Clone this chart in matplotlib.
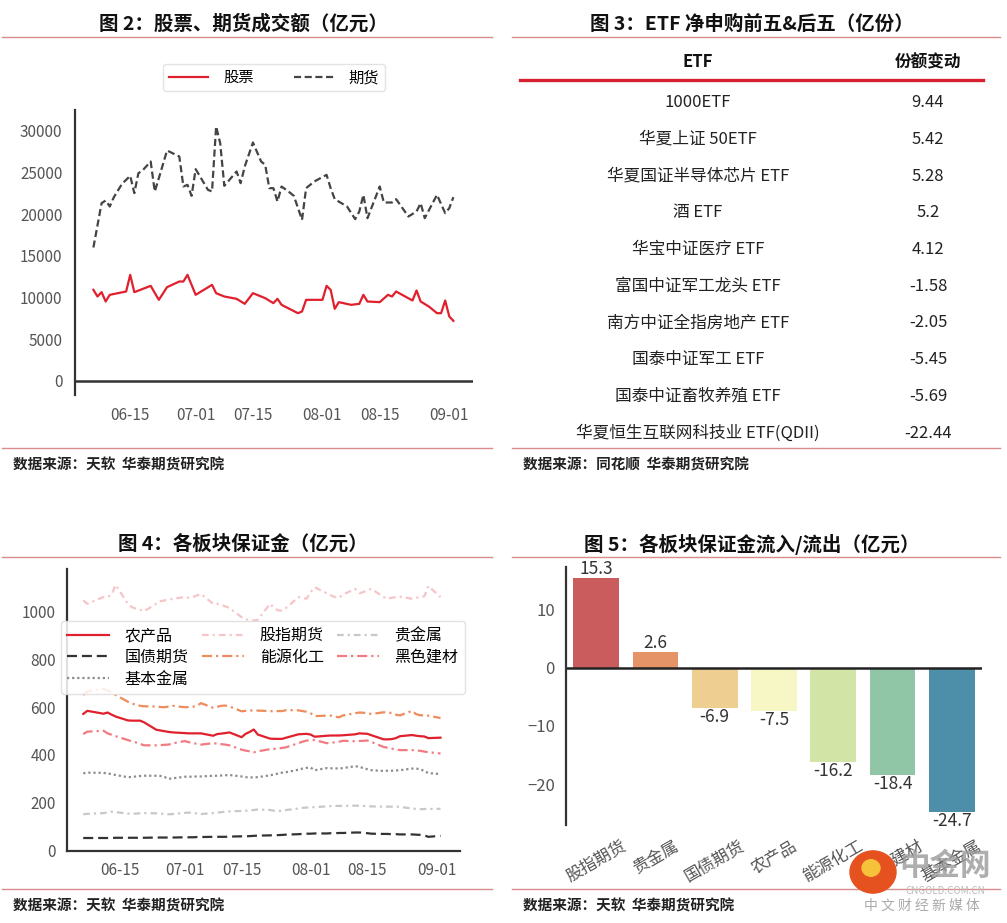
import pandas as pd
import matplotlib
matplotlib.use('Agg')
import matplotlib.pyplot as plt
import matplotlib.dates as mdates
from matplotlib.lines import Line2D
from matplotlib.patches import Circle
import seaborn as sns

plt.rcParams['font.family'] = ['Noto Sans CJK SC', 'DejaVu Sans']

W, H = 1007, 923


def fx(px):
    return px / W


def fy(py):
    return 1 - py / H


base = pd.Timestamp('2024-06-06')

# ---------------- 图2 股票、期货成交额 (days since 06-06) ----------------
stock_day = [0, 1, 2, 3, 4, 8, 9, 10, 14, 16, 18, 21, 22, 23, 25, 29, 30, 32, 35, 37, 39, 42, 44, 45, 46,
             50, 51, 52, 56, 57, 58, 59, 60, 63, 65, 66, 67, 70, 72, 73, 74, 78, 79, 80, 82, 84, 85, 86, 87, 88]
stock_amt = [10920, 10120, 10640, 9520, 10320, 10720, 12720, 10640, 11400, 9720, 11240, 11920, 11920, 12720,
             10320, 11520, 10520, 10120, 9840, 9240, 10520, 9920, 9320, 9840, 9120, 8120, 8320, 9720, 9720,
             11400, 10920, 8640, 9440, 9120, 9240, 10320, 9520, 9440, 10320, 10120, 10720, 9640, 10840, 9520,
             8920, 8120, 8120, 9640, 7720, 7200]
fut_day = [0, 2, 3, 4, 5, 7, 9, 10, 11, 12, 14, 15, 16, 18, 21, 22, 23, 24, 25, 28, 29, 30, 31, 32, 35, 36,
           37, 39, 41, 42, 43, 44, 45, 46, 48, 49, 51, 52, 54, 57, 58, 59, 62, 64, 65, 66, 67, 70, 71, 73, 74,
           77, 79, 80, 81, 84, 86, 87, 88]
fut_amt = [16000, 21320, 21640, 20920, 22040, 23640, 24600, 22520, 24920, 25240, 26320, 22720, 24320, 27640,
           26920, 23320, 23520, 22200, 25400, 22920, 22720, 30520, 28520, 23400, 25120, 23720, 25720, 28600,
           26320, 25920, 23120, 23120, 21520, 23320, 22600, 22200, 19320, 23120, 23920, 24720, 23120, 21800,
           20920, 19400, 20320, 22320, 19520, 23320, 21400, 21400, 21800, 19720, 20320, 21320, 19520, 22320,
           20120, 20720, 22040]

# ---------------- 图3 ETF 净申购 ----------------
etf_names = ['1000ETF', '华夏上证 50ETF', '华夏国证半导体芯片 ETF', '酒 ETF', '华宝中证医疗 ETF',
             '富国中证军工龙头 ETF', '南方中证全指房地产 ETF', '国泰中证军工 ETF', '国泰中证畜牧养殖 ETF',
             '华夏恒生互联网科技业 ETF(QDII)']
etf_change = [9.44, 5.42, 5.28, 5.2, 4.12, -1.58, -2.05, -5.45, -5.69, -22.44]

# ---------------- 图4 各板块保证金 (trading days since 06-06) ----------------
margin_day = [0, 1, 5, 6, 7, 8, 11, 12, 13, 14, 15, 18, 19, 20, 21, 22, 25, 26, 27, 28, 29, 32, 33, 34, 35, 36,
              39, 40, 41, 42, 43, 46, 47, 48, 49, 50, 53, 54, 55, 56, 57, 60, 61, 62, 63, 64, 67, 68, 69, 70, 71,
              74, 75, 76, 77, 78, 81, 82, 83, 84, 85, 88]
agri = [571, 584, 572, 577, 568, 560, 544, 543, 543, 543, 536, 505, 502, 499, 496, 494, 491, 490, 490, 490, 490,
        480, 487, 489, 491, 494, 474, 488, 496, 506, 485, 468, 467, 467, 467, 472, 486, 487, 488, 485, 476,
        480, 481, 481, 481, 482, 486, 490, 489, 488, 482, 465, 465, 466, 470, 478, 483, 480, 478, 477, 470, 472]
bond = [53, 53, 53, 53, 53, 54, 54, 54, 54, 54, 54, 55, 55, 55, 55, 55, 56, 56, 56, 57, 57, 58, 58, 58, 58, 59,
        60, 60, 61, 62, 63, 64, 65, 65, 66, 67, 69, 70, 71, 71, 72, 72, 73, 73, 74, 74, 76, 76, 75, 73, 71,
        70, 70, 69, 69, 68, 68, 67, 66, 64, 58, 62]
base_metal = [323, 326, 325, 322, 320, 316, 307, 308, 310, 312, 313, 313, 312, 308, 300, 302, 309, 309, 309, 310,
              310, 313, 313, 314, 315, 316, 310, 307, 306, 306, 307, 315, 318, 322, 326, 328, 338, 343, 346, 347,
              336, 345, 344, 344, 343, 345, 353, 350, 345, 340, 336, 333, 334, 334, 335, 336, 343, 343, 340, 333,
              324, 320]
index_fut = [1045, 1031, 1059, 1059, 1070, 1110, 1030, 1017, 1010, 1006, 1000, 1031, 1042, 1045, 1047, 1052,
             1059, 1056, 1059, 1066, 1072, 1031, 1031, 1027, 1020, 1014, 975, 968, 961, 961, 964, 1031, 1014,
             1003, 1003, 1014, 1059, 1056, 1052, 1080, 1100, 1075, 1066, 1059, 1056, 1070, 1093, 1075, 1080,
             1089, 1093, 1059, 1052, 1056, 1059, 1061, 1052, 1056, 1059, 1062, 1105, 1059]
energy = [650, 665, 675, 670, 660, 650, 622, 614, 610, 605, 603, 602, 600, 599, 602, 605, 599, 600, 601, 605,
          616, 597, 601, 605, 606, 603, 582, 584, 585, 586, 585, 583, 582, 583, 583, 587, 586, 583, 580, 574,
          562, 564, 564, 560, 557, 565, 574, 577, 576, 574, 571, 578, 577, 575, 568, 565, 584, 570, 566, 564,
          564, 554]
precious = [152, 154, 157, 160, 163, 161, 155, 154, 155, 156, 157, 156, 155, 153, 152, 153, 158, 159, 158, 155,
            153, 157, 159, 161, 163, 164, 166, 167, 168, 170, 172, 170, 167, 165, 167, 170, 176, 179, 180, 181,
            182, 185, 186, 187, 187, 187, 188, 188, 187, 186, 185, 184, 184, 184, 184, 183, 176, 174, 173, 174,
            174, 175]
ferrous = [487, 497, 501, 490, 484, 478, 462, 457, 452, 446, 440, 440, 441, 442, 443, 448, 458, 453, 450, 446,
           443, 449, 447, 445, 443, 440, 422, 418, 415, 411, 415, 424, 425, 427, 429, 432, 449, 455, 460, 461,
           462, 449, 450, 453, 455, 459, 457, 458, 459, 460, 454, 433, 430, 426, 423, 420, 420, 419, 417, 414,
           411, 406]

# ---------------- 图5 保证金流入/流出 ----------------
flow_sector = ['股指期货', '贵金属', '国债期货', '农产品', '能源化工', '黑色建材', '基本金属']
flow_value = [15.3, 2.6, -6.9, -7.5, -16.2, -18.4, -24.7]

tick_dates = pd.to_datetime(['2024-06-15', '2024-07-01', '2024-07-15', '2024-08-01', '2024-08-15', '2024-09-01'])


def to_dates(days):
    return base + pd.to_timedelta(days, unit='D')


def day_num(d):
    return mdates.date2num(base + pd.Timedelta(days=d))


fig = plt.figure(figsize=(W / 100, H / 100), dpi=100)


def frame(x0, x1, xc, ytitle, title, yl1, yl2, source, ysrc):
    fig.text(fx(xc), fy(ytitle), title, ha='center', va='center', fontsize=14, fontweight='bold', color='#111')
    for yy in (yl1, yl2):
        fig.add_artist(Line2D([fx(x0), fx(x1)], [fy(yy), fy(yy)], color='#d98c8c', lw=1))
    fig.text(fx(x0 + 11), fy(ysrc), source, ha='left', va='center', fontsize=10.5, fontweight='bold', color='#222')


frame(2, 492, 243, 24, '图 2：股票、期货成交额（亿元）', 37, 448, '数据来源：天软  华泰期货研究院', 465)
frame(512, 1000, 752, 24, '图 3：ETF 净申购前五&后五（亿份）', 37, 448, '数据来源：同花顺  华泰期货研究院', 465)
frame(2, 492, 243, 544, '图 4：各板块保证金（亿元）', 557, 889, '数据来源：天软  华泰期货研究院', 906)
frame(512, 1000, 752, 544, '图 5：各板块保证金流入/流出（亿元）', 557, 889, '数据来源：天软  华泰期货研究院', 906)

axis_col = '#333333'
tick_col = '#555555'

# ---- 图2
ax1 = fig.add_axes([fx(75), fy(395), 398 / W, 285 / H])
ax1.plot(to_dates(stock_day), stock_amt, color='#e0202c', lw=1.6, label='股票')
ax1.plot(to_dates(fut_day), fut_amt, color='#444444', lw=1.6, ls=(0, (3.2, 1.6)), label='期货')
ax1.set_ylim(-1700, 32500)
ax1.set_xlim(day_num(-4.5), day_num(92.8))
ax1.set_yticks(range(0, 30001, 5000))
ax1.set_xticks(tick_dates)
ax1.xaxis.set_major_formatter(mdates.DateFormatter('%m-%d'))
for s in ['top', 'right', 'bottom']:
    ax1.spines[s].set_visible(False)
ax1.spines['left'].set_color(axis_col)
ax1.spines['left'].set_linewidth(1.6)
ax1.axhline(0, color=axis_col, lw=1.8)
ax1.tick_params(axis='both', length=0, labelsize=11, colors=tick_col)
ax1.tick_params(axis='x', pad=9)
ax1.tick_params(axis='y', pad=9)
ax1.legend(loc='center', bbox_to_anchor=(0.5, 1.114), ncol=2, fontsize=11, edgecolor='#dddddd',
           handlelength=2.6, columnspacing=2.6, handletextpad=1.0, borderpad=0.35)

# ---- 图3 table
fig.text(fx(698), fy(62), 'ETF', ha='center', va='center', fontsize=12, fontweight='bold', color='#111')
fig.text(fx(928), fy(62), '份额变动', ha='center', va='center', fontsize=12, fontweight='bold', color='#111')
fig.add_artist(Line2D([fx(520), fx(983)], [fy(80), fy(80)], color='#d62030', lw=2.4))
for i, (name, val) in enumerate(zip(etf_names, etf_change)):
    yy = 102.7 + 36.7 * i
    fig.text(fx(698), fy(yy), name, ha='center', va='center', fontsize=12, color='#222')
    fig.text(fx(928), fy(yy), f'{val:g}', ha='center', va='center', fontsize=12, color='#222')

# ---- 图4
ax2 = fig.add_axes([fx(67), fy(850.7), 393 / W, 281.4 / H])
mdays = to_dates(margin_day)
series = [
    ('农产品', agri, '#e0202c', '-'),
    ('国债期货', bond, '#333333', (0, (4.5, 2.2))),
    ('基本金属', base_metal, '#8c8c8c', (0, (1, 1.3))),
    ('股指期货', index_fut, '#f6c5c8', (0, (3, 1.8, 1, 1.8))),
    ('能源化工', energy, '#ee8c5c', (0, (4.5, 1.8, 1, 1.8))),
    ('贵金属', precious, '#c8c8c8', (0, (3, 1.8, 1, 1.8))),
    ('黑色建材', ferrous, '#f27b82', (0, (4.5, 1.8, 1, 1.8))),
]
for name, vals, col, ls in series:
    ax2.plot(mdays, vals, color=col, lw=1.6, ls=ls, label=name)
ax2.set_ylim(0, 1175)
ax2.set_xlim(day_num(-4.0), day_num(92.8))
ax2.set_yticks(range(0, 1001, 200))
ax2.set_xticks(tick_dates)
ax2.xaxis.set_major_formatter(mdates.DateFormatter('%m-%d'))
for s in ['top', 'right']:
    ax2.spines[s].set_visible(False)
for s in ['left', 'bottom']:
    ax2.spines[s].set_color(axis_col)
    ax2.spines[s].set_linewidth(1.6)
ax2.tick_params(axis='both', length=0, labelsize=11, colors=tick_col, pad=8)
ax2.legend(loc='center', bbox_to_anchor=(-0.036, 0.553, 1.069, 0.267), mode='expand', ncol=3, fontsize=11.5,
           edgecolor='#dddddd', framealpha=0.85, handlelength=2.6, handletextpad=1.0, borderpad=0.4,
           labelspacing=0.3)

# ---- 图5
ax3 = fig.add_axes([fx(566), fy(825), 416 / W, 258.3 / H])
pal = sns.color_palette('Spectral', len(flow_value), desat=0.75)
xs = range(len(flow_value))
ax3.bar(xs, flow_value, width=0.77, color=pal)
for x, v in zip(xs, flow_value):
    ax3.text(x, v, f'{v}', ha='center', va='bottom' if v >= 0 else 'top', fontsize=12.5, color='#333')
ax3.set_ylim(-27, 17.3)
ax3.set_xlim(-0.51, 6.51)
ax3.set_yticks([-20, -10, 0, 10])
ax3.set_xticks(list(xs))
ax3.set_xticklabels(flow_sector, rotation=30)
for s in ['top', 'right', 'bottom']:
    ax3.spines[s].set_visible(False)
ax3.spines['left'].set_color(axis_col)
ax3.spines['left'].set_linewidth(1.6)
ax3.axhline(0, color='#222222', lw=1.8)
ax3.tick_params(axis='both', length=0, labelsize=12, colors=tick_col)
ax3.tick_params(axis='x', pad=9)
ax3.tick_params(axis='y', pad=8)

# watermark
fig.add_artist(Circle((fx(873), fy(872)), 23 / W, color='#e5521f', transform=fig.transFigure, zorder=5))
fig.add_artist(Circle((fx(871), fy(868)), 9 / W, color='#f6c23a', transform=fig.transFigure, zorder=6))
fig.text(fx(945), fy(866), '中金网', ha='center', va='center', fontsize=22, fontweight='bold',
         color='#9a9a9a', alpha=0.8, zorder=5)
fig.text(fx(945), fy(891), 'CNGOLD.COM.CN', ha='center', va='center', fontsize=7, color='#bbbbbb', zorder=5)
fig.text(fx(922), fy(906), '中 文 财 经 新 媒 体', ha='center', va='center', fontsize=10, color='#aaaaaa', zorder=5)

fig.savefig('out.png', dpi=100)
